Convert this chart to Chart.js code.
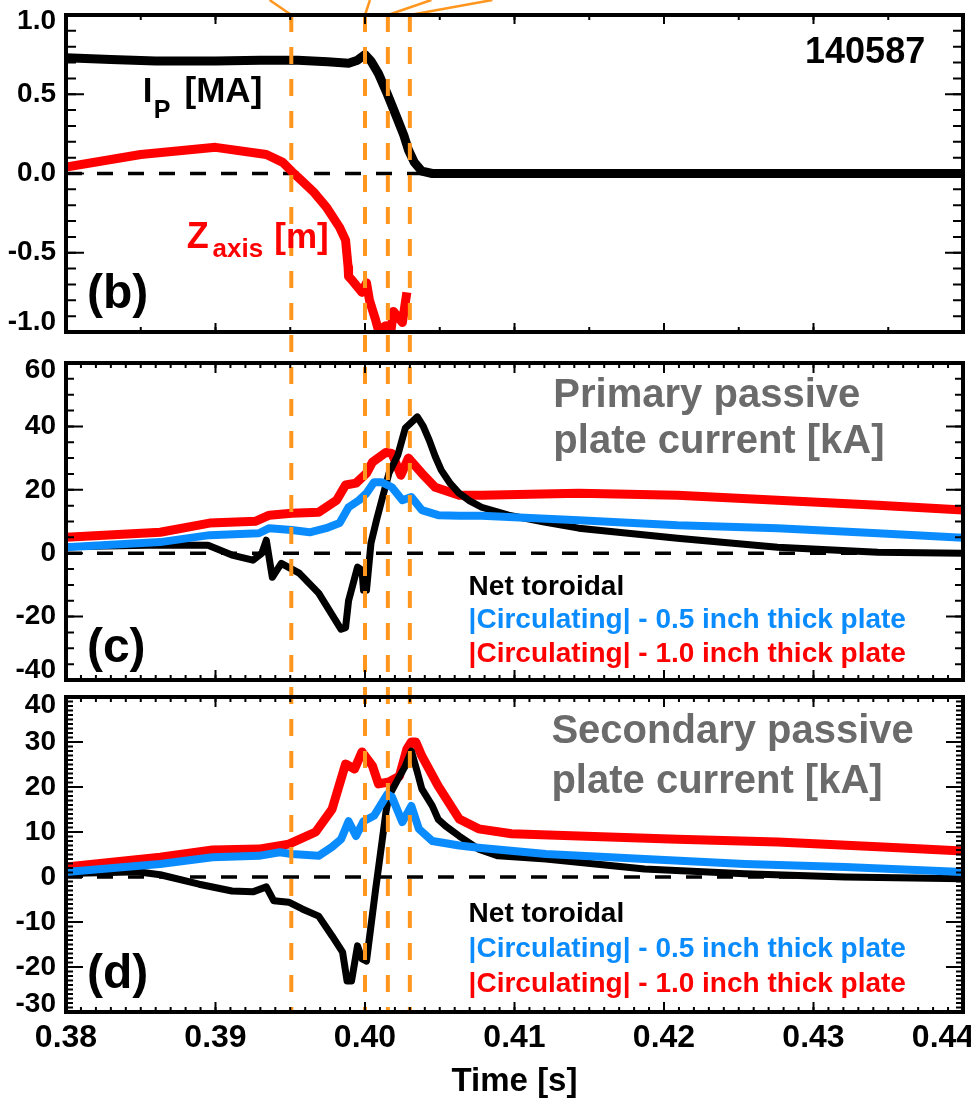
<!DOCTYPE html>
<html>
<head>
<meta charset="utf-8">
<script src="https://cdn.jsdelivr.net/npm/chart.js@4.4.0/dist/chart.umd.min.js"></script>
<style>
  html, body { margin: 0; padding: 0; background: #fff; }
  #wrap { position: relative; width: 971px; height: 1102px; overflow: hidden; }
  canvas { position: absolute; left: 0; }
</style>
</head>
<body>
<div id="wrap">
  <canvas id="pb" width="971" height="347" style="top:0"></canvas>
  <canvas id="pc" width="971" height="340" style="top:347px"></canvas>
  <canvas id="pd" width="971" height="415" style="top:687px"></canvas>
</div>
<script>
// ---- time axis ----
const timeRange = [0.38, 0.44];
const timeTicks = [0.38, 0.39, 0.40, 0.41, 0.42, 0.43, 0.44];
const eventTimes = [0.39507, 0.40000, 0.40153, 0.40300];

// ---- (b) Ip [MA] and Zaxis [m] ----
const ipTime = [0.3800, 0.3830, 0.3860, 0.3900, 0.3930, 0.3955, 0.3975, 0.3989, 0.3995, 0.4000,
                0.4004, 0.4009, 0.4015, 0.4021, 0.4026, 0.4029, 0.4033, 0.4038, 0.4045, 0.4400];
const ipMA   = [0.73, 0.72, 0.71, 0.71, 0.715, 0.715, 0.705, 0.695, 0.715, 0.75,
                0.71, 0.63, 0.50, 0.36, 0.24, 0.15, 0.07, 0.015, 0.0, 0.0];
const zTime  = [0.3800, 0.3850, 0.3900, 0.3934, 0.3945, 0.3951, 0.3957, 0.3966, 0.3974, 0.3983,
                0.3987, 0.39887, 0.3989, 0.3991, 0.3998, 0.4001, 0.4003, 0.4007, 0.4009, 0.4014,
                0.4017, 0.4019, 0.4025, 0.4028];
const zAxisM = [0.04, 0.12, 0.165, 0.12, 0.07, 0.013, -0.04, -0.12, -0.21, -0.34,
                -0.42, -0.59, -0.65, -0.67, -0.75, -0.69, -0.80, -0.92, -0.99, -0.96,
                -1.02, -0.87, -0.94, -0.75];
const bTicks = [-1.0, -0.5, 0.0, 0.5, 1.0];

// ---- (c) primary passive plate current [kA] ----
const cNetTime = [0.3800, 0.3863, 0.3895, 0.3911, 0.3925, 0.3931, 0.3934, 0.3938, 0.3944, 0.3956,
                  0.3969, 0.3984, 0.3987, 0.3989, 0.3995, 0.3998, 0.3999, 0.4001, 0.4004, 0.4008,
                  0.4016, 0.4022, 0.4027, 0.4035, 0.4039, 0.4043, 0.4047, 0.4051, 0.4057, 0.4063,
                  0.4070, 0.4078, 0.4096, 0.4120, 0.4143, 0.4209, 0.4276, 0.4343, 0.4400];
const cNet     = [2.0, 2.6, 2.5, -0.6, -2.2, 0.0, 4.1, -7.6, -3.2, -6.3,
                  -12.6, -24.0, -23.5, -15.0, -4.4, -5.4, -11.7, -11.7, 3.2, 11.0,
                  25.2, 31.0, 39.5, 43.0, 40.0, 35.6, 30.5, 26.2, 22.0, 18.9,
                  16.5, 14.5, 12.0, 9.8, 7.9, 4.7, 1.9, 0.3, 0.0];
const cThinTime = [0.3800, 0.3863, 0.3896, 0.3929, 0.3936, 0.3951, 0.3963, 0.3974, 0.3983, 0.3989,
                   0.3996, 0.4001, 0.4006, 0.4011, 0.4018, 0.4025, 0.4031, 0.4038, 0.4049, 0.4063,
                   0.4078, 0.4143, 0.4209, 0.4276, 0.4343, 0.4400];
const cThin     = [1.9, 3.5, 5.7, 6.3, 7.9, 7.3, 6.6, 7.9, 9.5, 14.5,
                   16.7, 18.9, 22.4, 22.4, 20.8, 16.7, 17.7, 13.6, 12.0, 11.8,
                   11.8, 10.4, 8.8, 7.9, 6.3, 4.9];
const cThickTime = [0.3800, 0.3863, 0.3896, 0.3927, 0.3936, 0.3951, 0.3969, 0.3981, 0.3987, 0.3994,
                    0.4001, 0.4005, 0.4014, 0.4018, 0.4024, 0.4029, 0.4038, 0.4047, 0.4063, 0.4078,
                    0.4143, 0.4209, 0.4276, 0.4343, 0.4400];
const cThick     = [5.0, 6.6, 9.5, 10.1, 12.0, 12.6, 12.9, 16.7, 21.5, 22.1,
                    25.2, 28.7, 31.8, 31.5, 24.6, 30.0, 25.2, 20.8, 18.3, 18.3,
                    18.9, 18.3, 16.7, 15.1, 13.6];
const cTicks = [-40, -20, 0, 20, 40, 60];

// ---- (d) secondary passive plate current [kA] ----
const dNetTime = [0.3800, 0.3843, 0.3849, 0.3863, 0.3889, 0.3911, 0.3925, 0.3934, 0.3939, 0.3949,
                  0.3958, 0.3969, 0.3978, 0.3985, 0.3988, 0.3991, 0.3995, 0.3998, 0.4001, 0.4007,
                  0.4011, 0.4014, 0.4016, 0.4021, 0.4027, 0.4031, 0.4035, 0.4038, 0.4045, 0.4049,
                  0.4054, 0.4063, 0.4076, 0.4089, 0.4121, 0.4187, 0.4254, 0.4321, 0.4400];
const dNet     = [0.8, 1.1, 1.1, 0.5, -1.6, -3.1, -3.3, -2.2, -5.3, -5.6,
                  -7.1, -8.7, -13.1, -16.7, -23.1, -23.1, -15.3, -18.2, -18.7, -3.0,
                  6.9, 14.4, 18.0, 21.1, 24.7, 28.0, 23.3, 19.6, 15.8, 12.8,
                  11.3, 9.1, 6.2, 4.7, 4.0, 1.8, 0.7, 0.0, -0.4];
const dThinTime = [0.3800, 0.3863, 0.3898, 0.3929, 0.3943, 0.3951, 0.3969, 0.3978, 0.3984, 0.3989,
                   0.3994, 0.3999, 0.4006, 0.4015, 0.4018, 0.4025, 0.4031, 0.4036, 0.4045, 0.4063,
                   0.4076, 0.4121, 0.4187, 0.4254, 0.4321, 0.4400];
const dThin     = [1.1, 2.9, 4.4, 4.7, 5.5, 5.1, 4.7, 6.7, 8.4, 12.4,
                   9.1, 12.4, 13.6, 18.4, 17.8, 12.2, 15.8, 10.7, 8.0, 7.0,
                   6.5, 5.1, 4.0, 2.9, 2.2, 1.1];
const dThickTime = [0.3800, 0.3863, 0.3898, 0.3929, 0.3949, 0.3967, 0.3978, 0.3987, 0.3993, 0.3998,
                    0.4005, 0.4009, 0.4016, 0.4023, 0.4028, 0.4031, 0.4034, 0.4038, 0.4049, 0.4063,
                    0.4076, 0.4098, 0.4143, 0.4209, 0.4276, 0.4343, 0.4400];
const dThick     = [2.2, 4.4, 6.0, 6.2, 7.3, 10.0, 15.1, 25.1, 24.0, 27.8,
                    24.7, 20.7, 21.1, 22.4, 28.4, 30.0, 30.0, 26.9, 20.2, 12.9,
                    10.7, 9.6, 9.1, 8.4, 7.8, 6.7, 5.8];
const dTicks = [-30, -20, -10, 0, 10, 20, 30, 40];

// ---- look ----
const FONT = '"Liberation Sans", Arial, Helvetica, sans-serif';
const ORANGE = '#FF961E';
const BLUE = '#0A8CFF';
const RED = '#FF0000';
const GREY = '#6B6B6B';
Chart.defaults.font.family = FONT;
Chart.defaults.font.weight = 'bold';
Chart.defaults.color = '#000';

// tick marks drawn inward on all four sides
const FRAMES = {
  pb: { xMinor: 0.005, xMinorLen: 5, xMajor: 0.01, xMajorLen: 9, yMinor: 0.1, yMinorLen: 10, yMajor: 0.5, yMajorLen: 18 },
  pc: { xMinor: 0.001, xMinorLen: 5, xMajor: 0.01, xMajorLen: 10, yMinor: 5, yMinorLen: 8, yMajor: 20, yMajorLen: 17 },
  pd: { xMinor: 0.001, xMinorLen: 5, xMajor: 0.01, xMajorLen: 10, yMinor: 1, yMinorLen: 7, yMajor: 10, yMajorLen: 17 }
};

// end labels pulled inside the frame, as in the original plot
const LABEL_NUDGE = {
  pb: { yBottom: -10, yTop: 6 },
  pc: { yBottom: -10, yTop: 7 },
  pd: { yBottom: -8, yTop: 8, xLast: -20 }
};

// where each canvas sits on the page (for continuous dashes) and how far the event lines run
const EVENT_SPAN = {
  pb: { pageTop: 0, fromArea: true, toArea: false, connectors: [-1.45, 0.33, 2.9, 5.5] },
  pc: { pageTop: 347, fromArea: false, toArea: false },
  pd: { pageTop: 687, fromArea: false, toArea: true }
};

const NOTES = {
  pb: [
    { t: 0.43747, v: 0.697, text: '140587', size: 36, align: 'right' },
    { t: 0.38513, v: 0.451, text: 'I', size: 35 },
    { t: 0.38587, v: 0.350, text: 'P', size: 25 },
    { t: 0.38793, v: 0.451, text: '[MA]', size: 35 },
    { t: 0.38807, v: -0.470, text: 'Z', size: 36, color: RED },
    { t: 0.38980, v: -0.527, text: 'axis', size: 26, color: RED },
    { t: 0.39393, v: -0.470, text: '[m]', size: 35, color: RED },
    { t: 0.38140, v: -0.849, text: '(b)', size: 48 }
  ],
  pc: [
    { t: 0.41260, v: 46.1, text: 'Primary passive', size: 40, color: GREY },
    { t: 0.41260, v: 31.6, text: 'plate current [kA]', size: 40, color: GREY },
    { t: 0.40693, v: -13.2, text: 'Net toroidal', size: 28 },
    { t: 0.40693, v: -23.6, text: '|Circulating| - 0.5 inch thick plate', size: 28, color: BLUE },
    { t: 0.40693, v: -34.3, text: '|Circulating| - 1.0 inch thick plate', size: 28, color: RED },
    { t: 0.38140, v: -34.3, text: '(c)', size: 48 }
  ],
  pd: [
    { t: 0.41247, v: 29.8, text: 'Secondary passive', size: 40, color: GREY },
    { t: 0.41247, v: 18.7, text: 'plate current [kA]', size: 40, color: GREY },
    { t: 0.40693, v: -10.0, text: 'Net toroidal', size: 28 },
    { t: 0.40693, v: -17.8, text: '|Circulating| - 0.5 inch thick plate', size: 28, color: BLUE },
    { t: 0.40693, v: -25.6, text: '|Circulating| - 1.0 inch thick plate', size: 28, color: RED },
    { t: 0.38140, v: -24.7, text: '(d)', size: 48 }
  ]
};

const nudgeLabels = {
  id: 'nudgeLabels',
  beforeDraw(chart) {
    const n = LABEL_NUDGE[chart.canvas.id];
    const yi = chart.scales.y.getLabelItems();
    if (!yi.length || yi._nudged) return;
    yi[0].options.translation[1] += n.yBottom;
    yi[yi.length - 1].options.translation[1] += n.yTop;
    yi._nudged = true;
    if (n.xLast && chart.scales.x.options.display) {
      const xi = chart.scales.x.getLabelItems();
      if (xi.length) xi[xi.length - 1].options.translation[0] += n.xLast;
    }
  }
};

const eventLines = {
  id: 'eventLines',
  afterDatasetsDraw(chart) {
    const span = EVENT_SPAN[chart.canvas.id];
    const { ctx, chartArea: a, scales: { x } } = chart;
    const y0 = span.fromArea ? a.top : 0;
    const y1 = span.toArea ? a.bottom : chart.height;
    ctx.save();
    ctx.strokeStyle = ORANGE;
    ctx.lineWidth = 4;
    ctx.setLineDash([17, 15]);
    ctx.lineDashOffset = span.pageTop + y0 - 15;
    eventTimes.forEach(t => {
      const px = x.getPixelForValue(t);
      ctx.beginPath();
      ctx.moveTo(px, y0);
      ctx.lineTo(px, y1);
      ctx.stroke();
    });
    if (span.connectors) {
      ctx.setLineDash([]);
      ctx.lineWidth = 2.5;
      eventTimes.forEach((t, i) => {
        const px = x.getPixelForValue(t);
        ctx.beginPath();
        ctx.moveTo(px, a.top);
        ctx.lineTo(px + span.connectors[i] * a.top, 0);
        ctx.stroke();
      });
    }
    ctx.restore();
  }
};

const notes = {
  id: 'notes',
  afterDatasetsDraw(chart) {
    const { ctx, scales: { x, y } } = chart;
    ctx.save();
    ctx.textBaseline = 'alphabetic';
    NOTES[chart.canvas.id].forEach(n => {
      ctx.font = `bold ${n.size}px ${FONT}`;
      ctx.fillStyle = n.color || '#000';
      ctx.textAlign = n.align || 'left';
      ctx.fillText(n.text, x.getPixelForValue(n.t), y.getPixelForValue(n.v));
    });
    ctx.restore();
  }
};

const frame = {
  id: 'frame',
  afterDraw(chart) {
    const f = FRAMES[chart.canvas.id];
    const { ctx, chartArea: a, scales: { x, y } } = chart;
    const each = (min, max, step, fn) => {
      const n = Math.round((max - min) / step);
      for (let i = 0; i <= n; i++) fn(min + i * step);
    };
    ctx.save();
    ctx.strokeStyle = '#000';
    ctx.lineWidth = 2;
    [[f.yMinor, f.yMinorLen], [f.yMajor, f.yMajorLen]].forEach(([step, len]) => {
      each(y.min, y.max, step, v => {
        const py = y.getPixelForValue(v);
        ctx.beginPath();
        ctx.moveTo(a.left, py); ctx.lineTo(a.left + len, py);
        ctx.moveTo(a.right, py); ctx.lineTo(a.right - len, py);
        ctx.stroke();
      });
    });
    [[f.xMinor, f.xMinorLen], [f.xMajor, f.xMajorLen]].forEach(([step, len]) => {
      each(x.min, x.max, step, v => {
        const px = x.getPixelForValue(v);
        ctx.beginPath();
        ctx.moveTo(px, a.top); ctx.lineTo(px, a.top + len);
        ctx.moveTo(px, a.bottom); ctx.lineTo(px, a.bottom - len);
        ctx.stroke();
      });
    });
    ctx.lineWidth = 4;
    ctx.strokeRect(a.left, a.top, a.right - a.left, a.bottom - a.top);
    ctx.restore();
  }
};

function line(ts, vs, color, width) {
  return {
    data: ts.map((t, i) => ({ x: t, y: vs[i] })),
    borderColor: color, borderWidth: width,
    pointRadius: 0, tension: 0, fill: false, borderJoinStyle: 'round'
  };
}
function zeroLine() {
  return {
    data: timeRange.map(t => ({ x: t, y: 0 })),
    borderColor: '#000', borderWidth: 3.5, borderDash: [16, 15],
    pointRadius: 0, fill: false
  };
}

function makePanel(id, datasets, yTicks, yFmt, padding, showTime) {
  return new Chart(document.getElementById(id), {
    type: 'line',
    data: { datasets },
    options: {
      responsive: false,
      animation: false,
      events: [],
      layout: { autoPadding: false, padding },
      plugins: { legend: { display: false }, tooltip: { enabled: false } },
      scales: {
        x: {
          type: 'linear',
          min: timeRange[0], max: timeRange[1],
          display: showTime,
          grid: { display: false, drawTicks: false },
          border: { display: false },
          afterBuildTicks: s => { s.ticks = timeTicks.map(v => ({ value: v })); },
          afterFit: s => {
            s.paddingLeft = 0; s.paddingRight = 0;
            if (showTime) s.height = 90;
          },
          ticks: {
            autoSkip: false, maxRotation: 0, padding: 7,
            font: { size: 32, weight: 'bold' }, color: '#000',
            callback: v => v.toFixed(2)
          },
          title: {
            display: showTime, text: 'Time [s]', color: '#000',
            font: { size: 33, weight: 'bold' }, padding: { top: 0, bottom: 0 }
          }
        },
        y: {
          min: yTicks[0], max: yTicks[yTicks.length - 1],
          grid: { display: false, drawTicks: false },
          border: { display: false },
          afterBuildTicks: s => { s.ticks = yTicks.map(v => ({ value: v })); },
          afterFit: s => { s.width = 66; s.paddingTop = 0; s.paddingBottom = 0; },
          ticks: {
            padding: 10, color: '#000',
            font: { size: 28, weight: 'bold' },
            callback: yFmt
          }
        }
      }
    },
    plugins: [nudgeLabels, eventLines, notes, frame]
  });
}

makePanel('pb',
  [line(ipTime, ipMA, '#000', 9), line(zTime, zAxisM, RED, 9), zeroLine()],
  bTicks, v => v.toFixed(1), { top: 15, bottom: 15, left: 0, right: 8 }, false);

makePanel('pc',
  [line(cThinTime, cThin, BLUE, 8), line(cNetTime, cNet, '#000', 7), line(cThickTime, cThick, RED, 9), zeroLine()],
  cTicks, v => String(v), { top: 16, bottom: 7, left: 0, right: 8 }, false);

makePanel('pd',
  [line(dThinTime, dThin, BLUE, 8), line(dNetTime, dNet, '#000', 7), line(dThickTime, dThick, RED, 9), zeroLine()],
  dTicks, v => String(v), { top: 10, bottom: 0, left: 0, right: 8 }, true);
</script>
</body>
</html>
